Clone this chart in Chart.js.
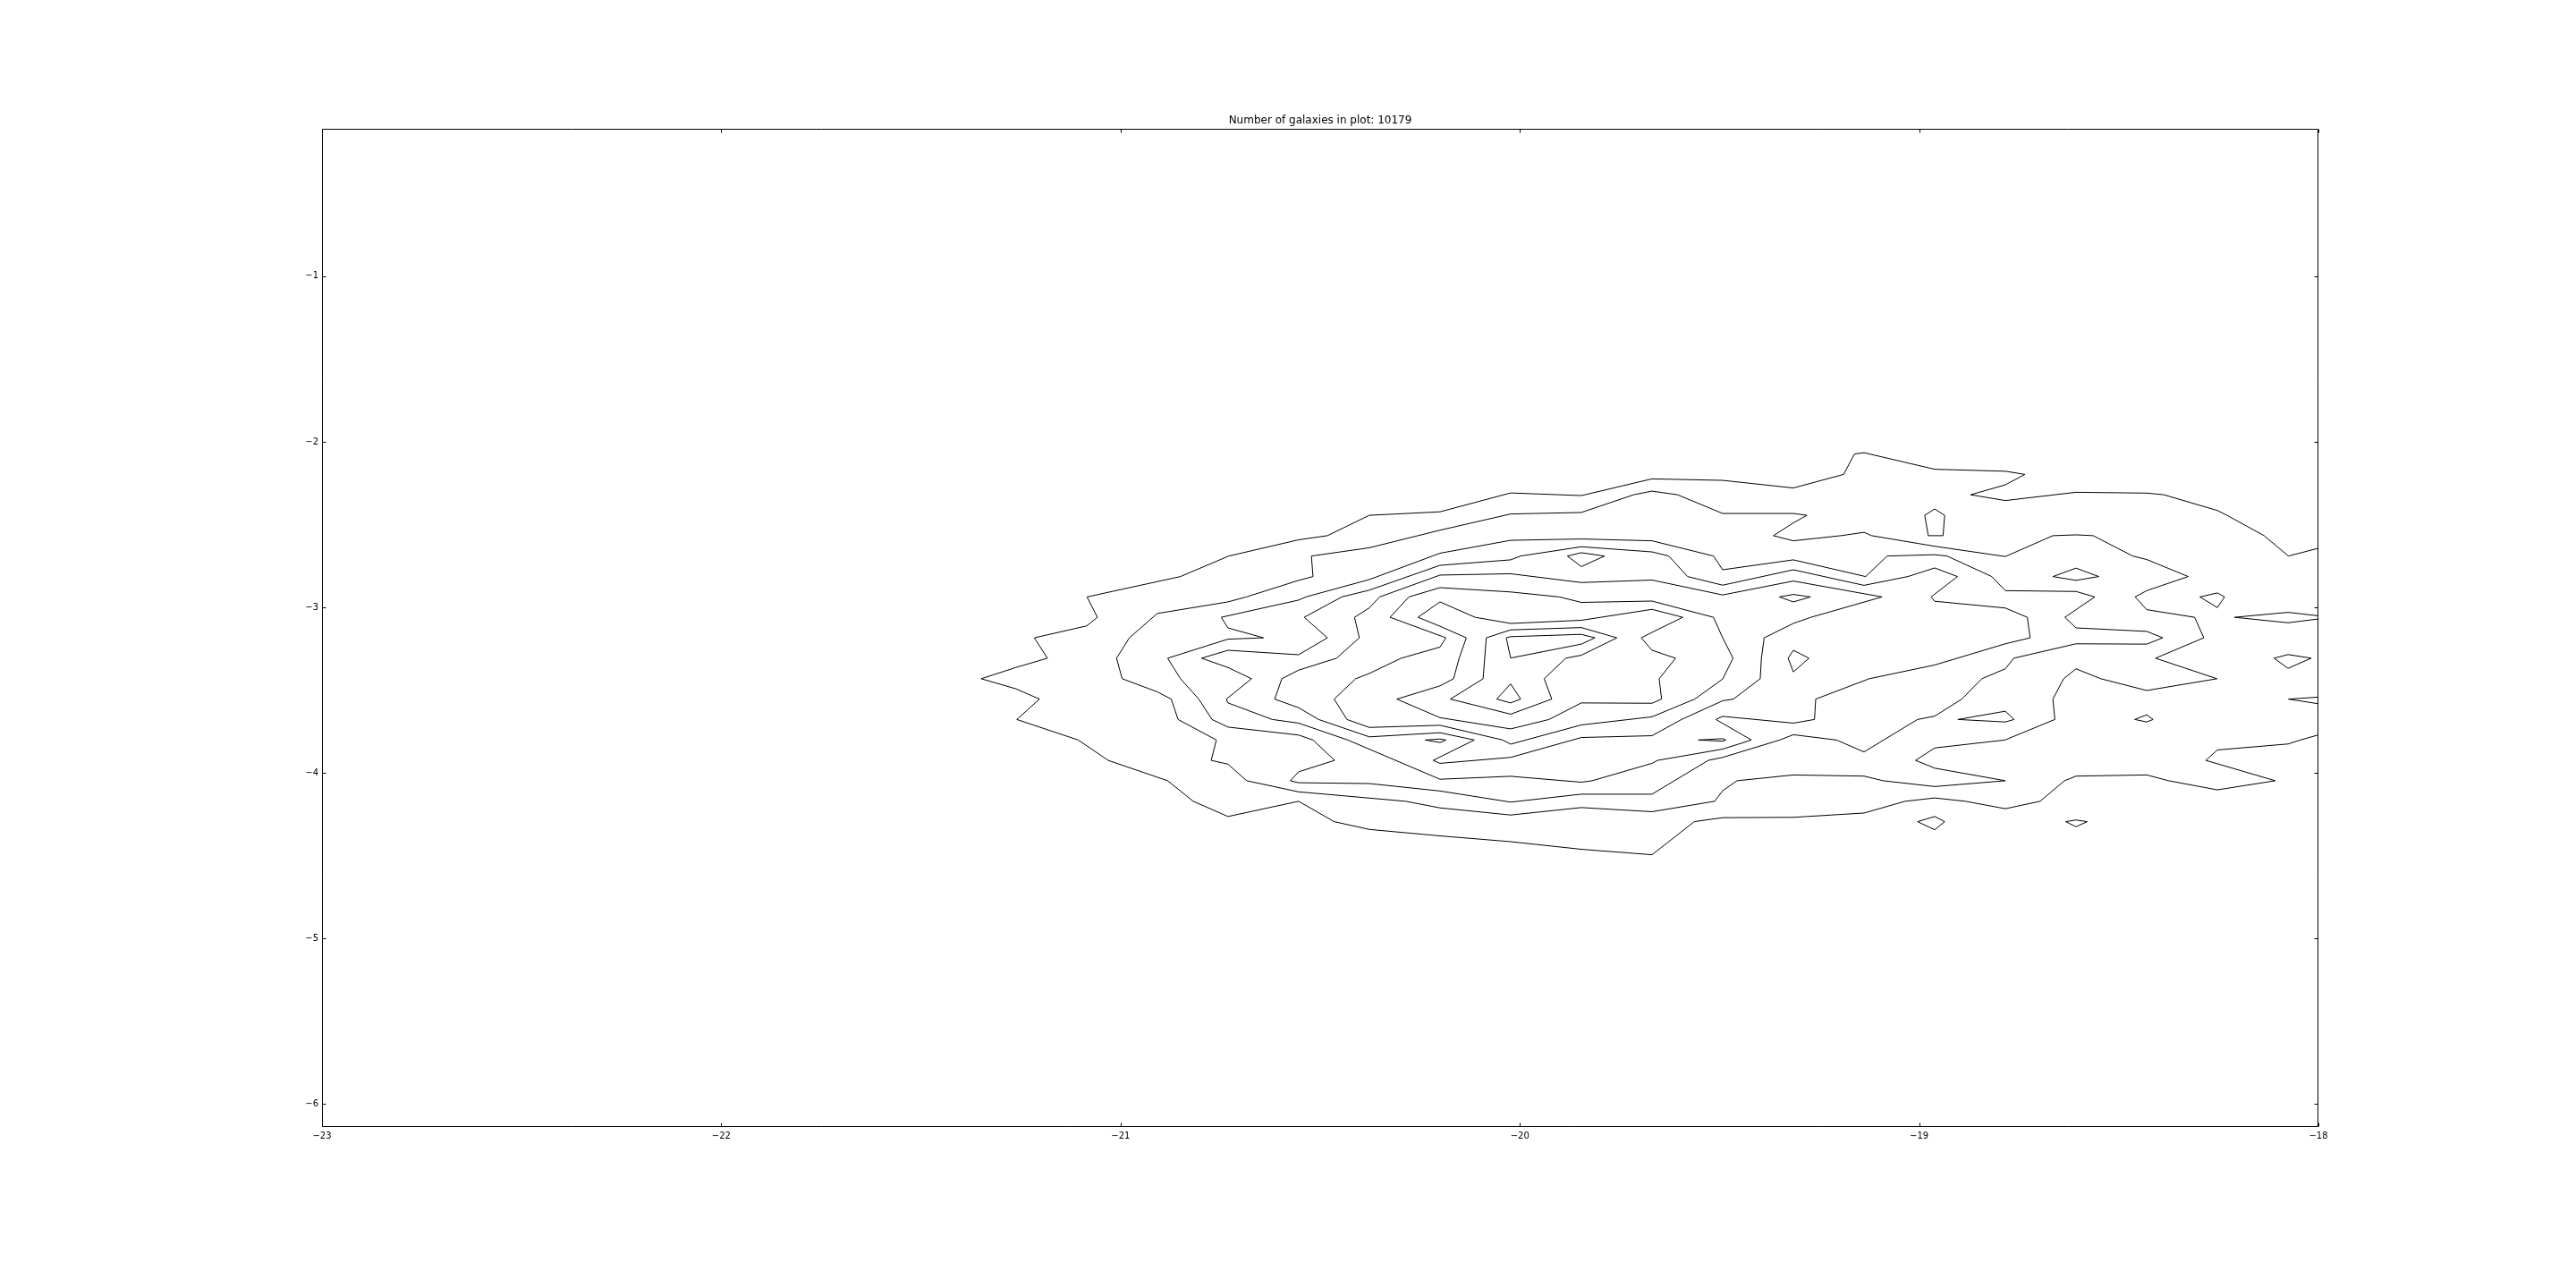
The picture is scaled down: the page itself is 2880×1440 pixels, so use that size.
<!DOCTYPE html>
<html>
<head>
<meta charset="utf-8">
<script src="https://cdn.jsdelivr.net/npm/chart.js@4.4.1/dist/chart.umd.min.js"></script>
<style>
html,body{margin:0;padding:0;background:#fff;}
canvas{display:block;}
</style>
</head>
<body>
<canvas id="c" width="2880" height="1440"></canvas>
<script>
const chartTitle = 'Number of galaxies in plot: 10179';
const xTicks = [-23, -22, -21, -20, -19, -18];
const yTicks = [-6, -5, -4, -3, -2, -1];
const xRange = [-23, -18];
const yRange = [-6.138, -0.110];

// contour polylines, [x, y] in data units
const contourOuter = [[-18.000,-2.643],[-18.075,-2.690],[-18.136,-2.567],[-18.229,-2.444],[-18.253,-2.415],[-18.387,-2.320],[-18.430,-2.310],[-18.607,-2.305],[-18.784,-2.355],[-18.871,-2.320],[-18.784,-2.260],[-18.735,-2.197],[-18.784,-2.178],[-18.961,-2.166],[-19.138,-2.066],[-19.162,-2.074],[-19.189,-2.197],[-19.315,-2.279],[-19.492,-2.233],[-19.669,-2.224],[-19.846,-2.325],[-20.023,-2.309],[-20.200,-2.423],[-20.377,-2.444],[-20.482,-2.567],[-20.554,-2.592],[-20.729,-2.690],[-20.850,-2.814],[-21.084,-2.937],[-21.058,-3.060],[-21.085,-3.112],[-21.216,-3.184],[-21.183,-3.307],[-21.262,-3.363],[-21.349,-3.431],[-21.262,-3.492],[-21.203,-3.554],[-21.260,-3.677],[-21.106,-3.801],[-21.031,-3.924],[-20.882,-4.047],[-20.818,-4.171],[-20.731,-4.263],[-20.554,-4.171],[-20.465,-4.294],[-20.377,-4.341],[-20.200,-4.380],[-20.023,-4.415],[-19.846,-4.461],[-19.669,-4.494],[-19.563,-4.294],[-19.492,-4.270],[-19.315,-4.268],[-19.138,-4.242],[-19.035,-4.171],[-18.961,-4.151],[-18.884,-4.171],[-18.784,-4.216],[-18.697,-4.171],[-18.636,-4.047],[-18.607,-4.019],[-18.430,-4.012],[-18.375,-4.047],[-18.253,-4.102],[-18.108,-4.047],[-18.282,-3.924],[-18.253,-3.861],[-18.076,-3.825],[-18.045,-3.801],[-18.000,-3.770]];

const contourL2 = [[-19.669,-2.298],[-19.605,-2.320],[-19.492,-2.433],[-19.315,-2.433],[-19.281,-2.444],[-19.315,-2.490],[-19.365,-2.567],[-19.315,-2.598],[-19.196,-2.567],[-19.138,-2.547],[-19.119,-2.567],[-18.961,-2.631],[-18.784,-2.693],[-18.665,-2.567],[-18.607,-2.562],[-18.564,-2.567],[-18.465,-2.690],[-18.430,-2.711],[-18.326,-2.814],[-18.430,-2.899],[-18.459,-2.937],[-18.430,-3.014],[-18.310,-3.060],[-18.287,-3.184],[-18.408,-3.307],[-18.254,-3.431],[-18.430,-3.502],[-18.545,-3.431],[-18.607,-3.371],[-18.638,-3.431],[-18.665,-3.554],[-18.660,-3.677],[-18.785,-3.801],[-18.961,-3.849],[-19.009,-3.924],[-18.961,-3.971],[-18.784,-4.047],[-18.961,-4.082],[-19.090,-4.047],[-19.138,-4.019],[-19.315,-4.012],[-19.456,-4.047],[-19.492,-4.107],[-19.512,-4.171],[-19.669,-4.234],[-19.846,-4.209],[-20.023,-4.254],[-20.200,-4.211],[-20.286,-4.171],[-20.554,-4.114],[-20.684,-4.047],[-20.731,-3.947],[-20.773,-3.924],[-20.760,-3.801],[-20.856,-3.677],[-20.873,-3.554],[-20.908,-3.510],[-20.996,-3.431],[-21.010,-3.307],[-20.978,-3.184],[-20.908,-3.037],[-20.731,-2.967],[-20.685,-2.937],[-20.554,-2.837],[-20.518,-2.814],[-20.522,-2.690],[-20.377,-2.640],[-20.200,-2.534],[-20.023,-2.436],[-19.846,-2.427],[-19.715,-2.320],[-19.669,-2.298]];

const contourL3 = [[-20.748,-3.060],[-20.554,-2.956],[-20.536,-2.937],[-20.377,-2.832],[-20.200,-2.673],[-20.023,-2.595],[-19.846,-2.587],[-19.669,-2.598],[-19.515,-2.690],[-19.492,-2.773],[-19.315,-2.713],[-19.134,-2.814],[-19.080,-2.690],[-18.961,-2.682],[-18.930,-2.690],[-18.818,-2.814],[-18.784,-2.899],[-18.607,-2.904],[-18.560,-2.937],[-18.635,-3.060],[-18.607,-3.124],[-18.430,-3.145],[-18.390,-3.184],[-18.430,-3.222],[-18.607,-3.220],[-18.763,-3.307],[-18.784,-3.371],[-18.843,-3.431],[-18.893,-3.554],[-18.961,-3.657],[-19.004,-3.677],[-19.138,-3.873],[-19.207,-3.801],[-19.315,-3.769],[-19.349,-3.801],[-19.492,-3.906],[-19.528,-3.924],[-19.669,-4.128],[-19.846,-4.128],[-20.023,-4.176],[-20.200,-4.109],[-20.377,-4.064],[-20.554,-4.059],[-20.575,-4.047],[-20.554,-3.993],[-20.464,-3.924],[-20.518,-3.801],[-20.554,-3.771],[-20.731,-3.723],[-20.771,-3.677],[-20.804,-3.554],[-20.850,-3.431],[-20.882,-3.307],[-20.731,-3.192],[-20.642,-3.184],[-20.731,-3.124],[-20.748,-3.060]];

const contourL4 = [[-20.200,-2.746],[-20.023,-2.713],[-19.998,-2.690],[-19.846,-2.634],[-19.669,-2.665],[-19.627,-2.690],[-19.580,-2.814],[-19.492,-2.866],[-19.315,-2.773],[-19.138,-2.867],[-19.028,-2.814],[-18.961,-2.762],[-18.904,-2.814],[-18.970,-2.937],[-18.961,-2.963],[-18.784,-3.004],[-18.729,-3.060],[-18.722,-3.184],[-18.784,-3.220],[-18.961,-3.348],[-19.125,-3.431],[-19.259,-3.554],[-19.262,-3.677],[-19.315,-3.699],[-19.492,-3.658],[-19.509,-3.677],[-19.420,-3.801],[-19.492,-3.856],[-19.655,-3.924],[-19.669,-3.942],[-19.819,-4.047],[-19.846,-4.056],[-20.023,-4.020],[-20.200,-4.038],[-20.431,-3.801],[-20.554,-3.699],[-20.620,-3.677],[-20.731,-3.577],[-20.735,-3.554],[-20.672,-3.431],[-20.731,-3.363],[-20.797,-3.307],[-20.731,-3.259],[-20.554,-3.286],[-20.482,-3.184],[-20.540,-3.060],[-20.446,-2.937],[-20.377,-2.896],[-20.200,-2.746]];

const contourL5 = [[-20.200,-2.805],[-20.023,-2.797],[-19.846,-2.850],[-19.669,-2.835],[-19.492,-2.925],[-19.315,-2.841],[-19.093,-2.937],[-19.271,-3.060],[-19.315,-3.097],[-19.388,-3.184],[-19.395,-3.307],[-19.398,-3.431],[-19.465,-3.554],[-19.492,-3.564],[-19.595,-3.677],[-19.669,-3.775],[-19.846,-3.786],[-20.023,-3.906],[-20.200,-3.942],[-20.217,-3.924],[-20.114,-3.801],[-20.200,-3.757],[-20.377,-3.782],[-20.504,-3.677],[-20.554,-3.606],[-20.614,-3.554],[-20.596,-3.431],[-20.554,-3.379],[-20.459,-3.307],[-20.402,-3.184],[-20.414,-3.060],[-20.377,-3.003],[-20.351,-2.937],[-20.200,-2.805]];

const contourL6 = [[-20.200,-2.881],[-20.023,-2.907],[-19.901,-2.937],[-19.846,-2.970],[-19.669,-2.962],[-19.515,-3.060],[-19.492,-3.184],[-19.466,-3.307],[-19.492,-3.433],[-19.562,-3.554],[-19.669,-3.661],[-19.846,-3.710],[-20.023,-3.826],[-20.043,-3.801],[-20.200,-3.712],[-20.377,-3.725],[-20.433,-3.677],[-20.465,-3.554],[-20.411,-3.431],[-20.377,-3.399],[-20.297,-3.307],[-20.200,-3.240],[-20.185,-3.184],[-20.325,-3.060],[-20.278,-2.937],[-20.200,-2.881]];

const contourL7 = [[-20.200,-2.967],[-20.112,-3.060],[-20.023,-3.097],[-19.846,-3.078],[-19.797,-3.060],[-19.669,-3.012],[-19.592,-3.060],[-19.669,-3.151],[-19.696,-3.184],[-19.669,-3.259],[-19.610,-3.307],[-19.651,-3.431],[-19.645,-3.554],[-19.669,-3.579],[-19.846,-3.577],[-19.927,-3.677],[-20.023,-3.734],[-20.200,-3.666],[-20.308,-3.554],[-20.200,-3.474],[-20.166,-3.431],[-20.152,-3.307],[-20.134,-3.184],[-20.200,-3.114],[-20.255,-3.060],[-20.200,-2.967]];

const contourL8 = [[-20.084,-3.184],[-20.023,-3.136],[-19.846,-3.122],[-19.757,-3.184],[-19.846,-3.289],[-19.885,-3.307],[-19.939,-3.431],[-19.920,-3.554],[-20.023,-3.645],[-20.174,-3.554],[-20.092,-3.431],[-20.088,-3.307],[-20.084,-3.184]];

const contourL9 = [[-20.034,-3.184],[-20.023,-3.177],[-19.846,-3.163],[-19.812,-3.184],[-19.846,-3.222],[-20.023,-3.306],[-20.034,-3.184]];

const islandCore = [[-20.023,-3.462],[-19.998,-3.554],[-20.023,-3.577],[-20.058,-3.554],[-20.023,-3.462]];
const islandTop = [[-19.881,-2.690],[-19.846,-2.670],[-19.788,-2.690],[-19.846,-2.754],[-19.881,-2.690]];
const sliverA = [[-20.237,-3.801],[-20.200,-3.795],[-20.185,-3.801],[-20.200,-3.816],[-20.237,-3.801]];
const sliverB = [[-19.553,-3.801],[-19.492,-3.793],[-19.484,-3.801],[-19.492,-3.808],[-19.553,-3.801]];
const diamondA = [[-19.350,-2.937],[-19.315,-2.922],[-19.272,-2.937],[-19.315,-2.967],[-19.350,-2.937]];
const quadA = [[-19.315,-3.259],[-19.276,-3.307],[-19.315,-3.390],[-19.328,-3.307],[-19.315,-3.259]];
const pentagonA = [[-18.986,-2.444],[-18.961,-2.406],[-18.936,-2.444],[-18.940,-2.567],[-18.977,-2.567],[-18.986,-2.444]];
const diamondB = [[-18.665,-2.814],[-18.607,-2.763],[-18.550,-2.814],[-18.607,-2.837],[-18.665,-2.814]];
const quadB = [[-18.297,-2.937],[-18.253,-2.913],[-18.235,-2.937],[-18.253,-3.001],[-18.297,-2.937]];
const edgeA = [[-18.000,-3.051],[-18.076,-3.030],[-18.210,-3.060],[-18.076,-3.093],[-18.000,-3.070]];
const diamondC = [[-18.111,-3.307],[-18.076,-3.285],[-18.018,-3.307],[-18.076,-3.368],[-18.111,-3.307]];
const edgeB = [[-18.000,-3.542],[-18.075,-3.554],[-18.000,-3.582]];
const diamondD = [[-18.460,-3.677],[-18.430,-3.649],[-18.414,-3.677],[-18.430,-3.692],[-18.460,-3.677]];
const sliverC = [[-18.903,-3.677],[-18.784,-3.627],[-18.762,-3.677],[-18.784,-3.692],[-18.903,-3.677]];
const diamondE = [[-19.004,-4.294],[-18.961,-4.263],[-18.936,-4.294],[-18.961,-4.343],[-19.004,-4.294]];
const diamondF = [[-18.633,-4.294],[-18.607,-4.284],[-18.579,-4.294],[-18.607,-4.325],[-18.633,-4.294]];

const contours = [contourOuter, contourL2, contourL3, contourL4, contourL5, contourL6, contourL7, contourL8, contourL9,
  islandCore, islandTop, sliverA, sliverB, diamondA, quadA, pentagonA, diamondB, quadB, edgeA, diamondC, edgeB,
  diamondD, sliverC, diamondE, diamondF];

const fmt = v => (v < 0 ? '\u2212' : '') + Math.abs(v);

const whiteBg = {
  id: 'whiteBg',
  beforeDraw(chart) {
    const ctx = chart.ctx;
    ctx.save();
    ctx.fillStyle = '#fff';
    ctx.fillRect(0, 0, chart.width, chart.height);
    ctx.restore();
  }
};

const frameAndTicks = {
  id: 'frameAndTicks',
  afterDraw(chart) {
    const { ctx, chartArea, scales } = chart;
    const L = Math.round(chartArea.left) + 0.5;
    const R = Math.round(chartArea.right) - 0.5;
    const T = Math.round(chartArea.top) + 0.5;
    const B = Math.round(chartArea.bottom) - 0.5;
    ctx.save();
    ctx.strokeStyle = '#000';
    ctx.lineWidth = 1;
    ctx.beginPath();
    ctx.rect(L, T, R - L, B - T);
    for (const v of xTicks) {
      const p = Math.round(scales.x.getPixelForValue(v)) + 0.5;
      ctx.moveTo(p, B); ctx.lineTo(p, B - 4);
      ctx.moveTo(p, T); ctx.lineTo(p, T + 4);
    }
    for (const v of yTicks) {
      const p = Math.round(scales.y.getPixelForValue(v)) + 0.5;
      ctx.moveTo(L, p); ctx.lineTo(L + 4, p);
      ctx.moveTo(R, p); ctx.lineTo(R - 4, p);
    }
    ctx.stroke();
    ctx.restore();
  }
};

Chart.defaults.font.family = '"DejaVu Sans", sans-serif';
Chart.defaults.color = '#000';

new Chart(document.getElementById('c'), {
  type: 'scatter',
  data: {
    datasets: contours.map(pts => ({
      data: pts.map(p => ({ x: p[0], y: p[1] })),
      showLine: true,
      borderColor: '#000',
      borderWidth: 1,
      pointRadius: 0,
      pointHoverRadius: 0,
      fill: false,
      tension: 0
    }))
  },
  options: {
    responsive: false,
    animation: false,
    devicePixelRatio: 1,
    events: [],
    layout: { padding: { top: 128, right: 288, left: 0, bottom: 0 } },
    plugins: {
      legend: { display: false },
      tooltip: { enabled: false },
      title: {
        display: true,
        text: chartTitle,
        fullSize: false,
        color: '#000',
        font: { family: '"DejaVu Sans", sans-serif', size: 12, weight: 'normal', lineHeight: 1.2 },
        padding: { top: 0, bottom: 1.6 }
      }
    },
    scales: {
      x: {
        type: 'linear',
        position: 'bottom',
        min: xRange[0],
        max: xRange[1],
        grid: { display: false, drawTicks: false },
        border: { display: false },
        ticks: { font: { size: 10 }, color: '#000', padding: 4, maxRotation: 0, autoSkip: false, callback: v => fmt(v) },
        afterBuildTicks: s => { s.ticks = xTicks.map(v => ({ value: v })); },
        afterFit: s => { s.height = 180; }
      },
      y: {
        type: 'linear',
        position: 'left',
        min: yRange[0],
        max: yRange[1],
        grid: { display: false, drawTicks: false },
        border: { display: false },
        ticks: { font: { size: 10 }, color: '#000', padding: 4, autoSkip: false, callback: v => fmt(v) },
        afterBuildTicks: s => { s.ticks = yTicks.map(v => ({ value: v })); },
        afterFit: s => { s.width = 360; }
      }
    }
  },
  plugins: [whiteBg, frameAndTicks]
});
</script>
</body>
</html>
